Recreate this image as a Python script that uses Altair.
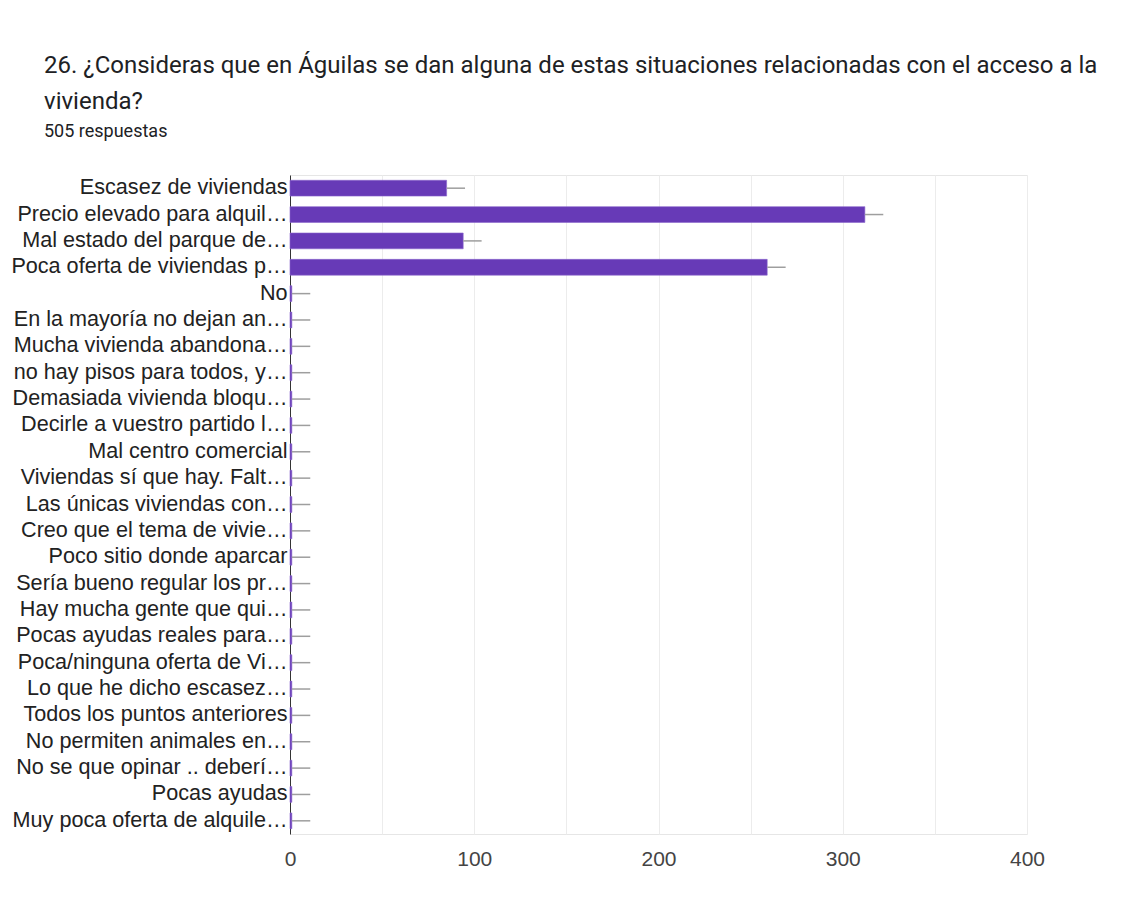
import altair as alt
import pandas as pd

categories = [
    "Escasez de viviendas",
    "Precio elevado para alquil…",
    "Mal estado del parque de…",
    "Poca oferta de viviendas p…",
    "No",
    "En la mayoría no dejan an…",
    "Mucha vivienda abandona…",
    "no hay pisos para todos, y…",
    "Demasiada vivienda bloqu…",
    "Decirle a vuestro partido l…",
    "Mal centro comercial",
    "Viviendas sí que hay. Falt…",
    "Las únicas viviendas con…",
    "Creo que el tema de vivie…",
    "Poco sitio donde aparcar",
    "Sería bueno regular los pr…",
    "Hay mucha gente que qui…",
    "Pocas ayudas reales para…",
    "Poca/ninguna oferta de Vi…",
    "Lo que he dicho escasez…",
    "Todos los puntos anteriores",
    "No permiten animales en…",
    "No se que opinar .. deberí…",
    "Pocas ayudas",
    "Muy poca oferta de alquile…",
]
values = [85, 312, 94, 259] + [1] * 21
error_high = [95, 322, 104, 269] + [11] * 21

title_lines = [
    "26. ¿Consideras que en Águilas se dan alguna de estas situaciones relacionadas con el acceso a la",
    "vivienda?",
]
subtitle = "505 respuestas"

df = pd.DataFrame({"cat": categories, "value": values, "hi": error_high})

PLOT_W = 737
PLOT_H = 659

y_enc = alt.Y(
    "cat:N",
    sort=categories,
    title=None,
    scale=alt.Scale(paddingInner=0.4, paddingOuter=0.2),
    axis=alt.Axis(
        domain=True,
        domainColor="#333333",
        domainWidth=1,
        ticks=False,
        labelPadding=3,
        labelColor="#222222",
        labelFontSize=21.6,
        labelFont="Liberation Sans",
        labelLimit=0,
        grid=False,
    ),
)
x_enc = alt.X(
    "value:Q",
    title=None,
    scale=alt.Scale(domain=[0, 400], nice=False),
    axis=alt.Axis(
        values=[0, 50, 100, 150, 200, 250, 300, 350, 400],
        labelExpr="datum.value % 100 == 0 ? datum.label : ''",
        labelFlush=False,
        domain=False,
        ticks=False,
        grid=True,
        gridColor="#ececec",
        labelPadding=14,
        labelColor="#444444",
        labelFontSize=21,
        labelFont="Liberation Sans",
    ),
)

bars = alt.Chart(df).mark_bar(color="#673ab7", stroke="#8a66cc", strokeWidth=0.6).encode(y=y_enc, x=x_enc)
errs = alt.Chart(df).mark_rule(color="#9e9e9e", strokeWidth=1.5).encode(
    y=alt.Y("cat:N", sort=categories),
    x="value:Q",
    x2="hi:Q",
)

chart = (
    alt.layer(bars, errs)
    .properties(
        width=PLOT_W,
        height=PLOT_H,
        padding={"left": 2, "top": 46, "right": 10, "bottom": 10},
        title=alt.TitleParams(
            text=title_lines,
            subtitle=subtitle,
            anchor="start",
            frame="group",
            dx=-246,
            font="Roboto",
            fontSize=24,
            fontWeight="normal",
            color="#202124",
            lineHeight=36,
            subtitleFont="Roboto",
            subtitleFontSize=18,
            subtitleColor="#202124",
            subtitlePadding=9,
            offset=34,
        ),
    )
    .configure_view(stroke="#e6e6e6")
)

chart.save("out.html", embed_options={"renderer": "svg", "actions": False})
